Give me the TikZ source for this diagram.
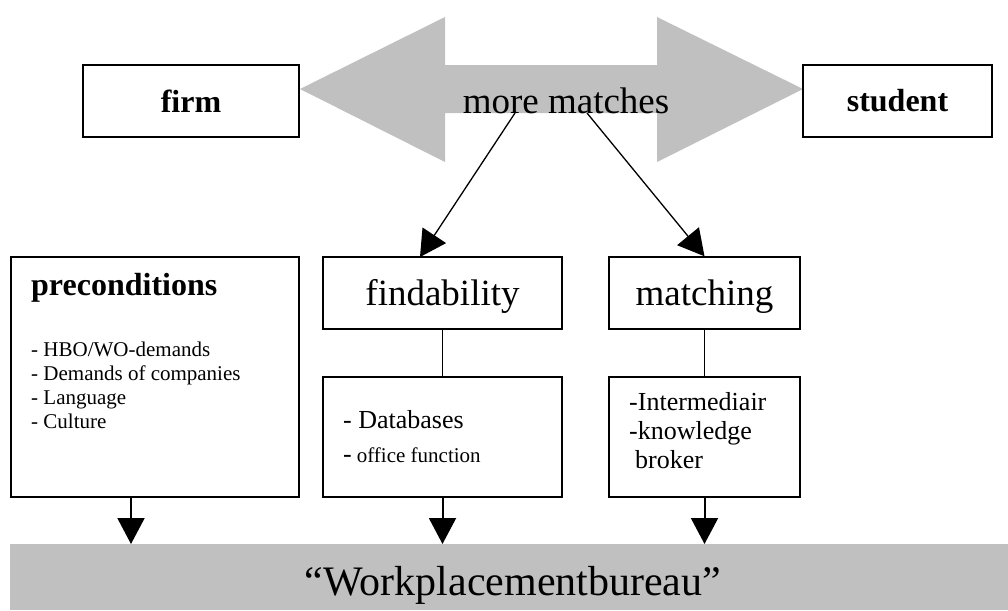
\documentclass[tikz,border=0pt]{standalone}
\usepackage{fontspec}
\setmainfont{Liberation Serif}
\usetikzlibrary{arrows.meta}
\definecolor{silv}{HTML}{C0C0C0}
\tikzset{
  box/.style={draw=black, line width=1.4pt, rectangle, inner sep=0pt},
  thinarrow/.style={line width=1.3pt, -{Triangle[length=26pt,width=28pt]}},
  downarrow/.style={line width=2pt, -{Triangle[length=26pt,width=27pt]}},
  link/.style={line width=1.4pt},
  big/.style={font=\fontsize{37}{42}\selectfont},
  bold/.style={font=\fontsize{32}{36}\selectfont\bfseries},
}
\begin{document}
\begin{tikzpicture}[x=1pt,y=-1pt]
\useasboundingbox (0,0) rectangle (1008,610);
% double arrow
\fill[silv] (300,89) -- (445,17) -- (445,65) -- (657,65) -- (657,17) -- (803,89)
  -- (657,162) -- (657,113) -- (445,113) -- (445,162) -- cycle;
\node[box, minimum width=216pt, minimum height=72pt, bold] (firm) at (191,101) {firm};
\node[box, minimum width=189pt, minimum height=72pt, bold] (student) at (897.5,101) {student};
\node[big, inner sep=0pt, anchor=base] (mm) at (566,113) {more matches};

% middle boxes
\node[box, minimum width=288pt, minimum height=240pt] (pre) at (155,377) {};
\node[box, minimum width=239pt, minimum height=72pt] (find) at (442.5,293) {};
\node[box, minimum width=239pt, minimum height=120pt] (findlist) at (442.5,437) {};
\node[box, minimum width=191pt, minimum height=72pt] (match) at (704.5,293) {};
\node[box, minimum width=191pt, minimum height=120pt] (matchlist) at (704.5,437) {};

\node[big, inner sep=0pt, anchor=base] (findt) at (442.5,305) {findability};
\node[big, inner sep=0pt, anchor=base] (matcht) at (704.5,305) {matching};

\node[bold, inner sep=0pt, anchor=base west] (pret) at (31,295) {preconditions};
\node[inner sep=0pt, anchor=base west, align=left, font=\fontsize{21}{23.7}\selectfont] (prel) at (31,428)
  {- HBO/WO-demands\\- Demands of companies\\- Language\\- Culture};

\node[inner sep=0pt, anchor=base west, font=\fontsize{26}{30}\selectfont] (fl1) at (343,428) {- Databases};
\node[inner sep=0pt, anchor=base west, font=\fontsize{26}{30}\selectfont] (fl2) at (343,462) {-\hspace{5pt}{\fontsize{21}{24}\selectfont office function}};

\node[inner sep=0pt, anchor=base west, align=left, font=\fontsize{26}{29}\selectfont] (ml) at (629,468)
  {-Intermediair\\-knowledge\\\hspace{6pt}broker};

% bottom bar
\node[fill=silv, inner sep=0pt, minimum width=998pt, minimum height=66pt, anchor=north west] (bar) at (10,544) {};
\node[inner sep=0pt, anchor=base, font=\fontsize{42}{48}\selectfont] (bart) at (513,595) {``Workplacementbureau''};

% connectors
\coordinate (s1) at (515,113);
\coordinate (s2) at (587,113);
\coordinate (t1) at (420,257);
\draw[thinarrow] (s1) -- (t1);
\draw[thinarrow] (s2) -- (match.north);
\draw[link] (find.south) -- (findlist.north);
\draw[link] (match.south) -- (matchlist.north);
\coordinate (p1) at (131,497);
\coordinate (p2) at (131,544);
\draw[downarrow] (p1) -- (p2);
\draw[downarrow] (findlist.south) -- (findlist.south |- bar.north);
\draw[downarrow] (matchlist.south) -- (matchlist.south |- bar.north);
\end{tikzpicture}
\end{document}
